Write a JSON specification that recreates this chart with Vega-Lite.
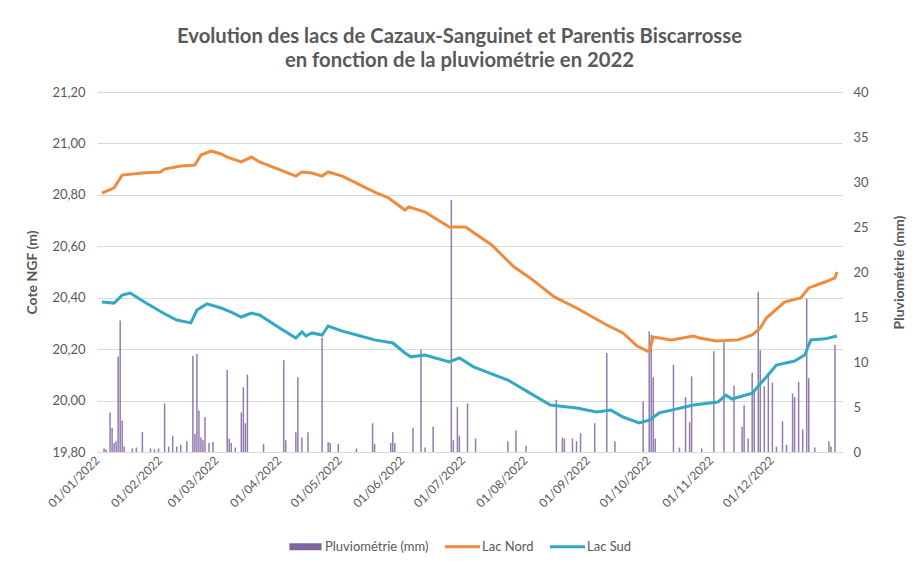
{
  "$schema": "https://vega.github.io/schema/vega-lite/v6.json",
  "width": 745,
  "height": 360,
  "autosize": {"type": "none"},
  "padding": {"left": 97, "top": 92, "right": 71, "bottom": 114},
  "background": "white",
  "config": {
    "font": "Lato",
    "view": {"stroke": null},
    "axis": {"labelFont": "Lato", "labelFontSize": 13, "labelColor": "#595959", "titleFont": "Lato", "titleFontSize": 14, "titleColor": "#595959", "titleFontWeight": "bold"},
    "legend": {
      "labelFont": "Lato",
      "labelFontSize": 13,
      "labelColor": "#595959",
      "labelLimit": 300
    }
  },
  "title": {
    "text": ["Evolution des lacs de Cazaux-Sanguinet et Parentis Biscarrosse", "en fonction de la pluviométrie en 2022"],
    "anchor": "middle",
    "dx": -10,
    "offset": 15,
    "fontSize": 20.3,
    "font": "Lato",
    "fontWeight": "bold",
    "color": "#595959",
    "lineHeight": 24
  },
  "datasets": {
    "pluie": [
      {"date": "2022-01-02", "pluie": 0.4}, {"date": "2022-01-03", "pluie": 0.3}, {"date": "2022-01-05", "pluie": 4.4}, {"date": "2022-01-06", "pluie": 2.7},
      {"date": "2022-01-07", "pluie": 1.0}, {"date": "2022-01-08", "pluie": 1.2}, {"date": "2022-01-09", "pluie": 10.6}, {"date": "2022-01-10", "pluie": 14.6},
      {"date": "2022-01-11", "pluie": 3.5}, {"date": "2022-01-12", "pluie": 0.6}, {"date": "2022-01-16", "pluie": 0.4}, {"date": "2022-01-18", "pluie": 0.5},
      {"date": "2022-01-21", "pluie": 2.2}, {"date": "2022-01-25", "pluie": 0.4}, {"date": "2022-01-27", "pluie": 0.3}, {"date": "2022-01-29", "pluie": 0.4},
      {"date": "2022-02-01", "pluie": 5.4}, {"date": "2022-02-03", "pluie": 0.6}, {"date": "2022-02-05", "pluie": 1.8}, {"date": "2022-02-07", "pluie": 0.6},
      {"date": "2022-02-09", "pluie": 0.8}, {"date": "2022-02-12", "pluie": 1.2}, {"date": "2022-02-15", "pluie": 10.7}, {"date": "2022-02-16", "pluie": 2.0},
      {"date": "2022-02-17", "pluie": 10.9}, {"date": "2022-02-18", "pluie": 4.6}, {"date": "2022-02-19", "pluie": 1.6}, {"date": "2022-02-20", "pluie": 1.3},
      {"date": "2022-02-21", "pluie": 3.9}, {"date": "2022-02-23", "pluie": 1.0}, {"date": "2022-02-25", "pluie": 1.1},
      {"date": "2022-03-04", "pluie": 9.1}, {"date": "2022-03-05", "pluie": 1.5}, {"date": "2022-03-06", "pluie": 1.0}, {"date": "2022-03-08", "pluie": 0.5},
      {"date": "2022-03-11", "pluie": 4.4}, {"date": "2022-03-12", "pluie": 7.2}, {"date": "2022-03-13", "pluie": 3.2}, {"date": "2022-03-14", "pluie": 8.6},
      {"date": "2022-03-22", "pluie": 0.9},
      {"date": "2022-04-01", "pluie": 10.2}, {"date": "2022-04-02", "pluie": 1.3}, {"date": "2022-04-07", "pluie": 2.2}, {"date": "2022-04-08", "pluie": 8.3},
      {"date": "2022-04-10", "pluie": 1.6}, {"date": "2022-04-13", "pluie": 2.2}, {"date": "2022-04-20", "pluie": 12.7}, {"date": "2022-04-23", "pluie": 1.1},
      {"date": "2022-04-24", "pluie": 1.0}, {"date": "2022-04-28", "pluie": 0.9},
      {"date": "2022-05-07", "pluie": 0.4}, {"date": "2022-05-15", "pluie": 3.2}, {"date": "2022-05-16", "pluie": 0.9}, {"date": "2022-05-24", "pluie": 1.0},
      {"date": "2022-05-25", "pluie": 2.2}, {"date": "2022-05-26", "pluie": 1.0},
      {"date": "2022-06-04", "pluie": 2.7}, {"date": "2022-06-08", "pluie": 11.4}, {"date": "2022-06-10", "pluie": 0.5}, {"date": "2022-06-14", "pluie": 2.8},
      {"date": "2022-06-23", "pluie": 28.0}, {"date": "2022-06-24", "pluie": 1.3}, {"date": "2022-06-26", "pluie": 5.0}, {"date": "2022-06-27", "pluie": 1.8},
      {"date": "2022-07-01", "pluie": 5.4}, {"date": "2022-07-05", "pluie": 1.5}, {"date": "2022-07-21", "pluie": 1.2}, {"date": "2022-07-25", "pluie": 2.4},
      {"date": "2022-07-30", "pluie": 0.7},
      {"date": "2022-08-14", "pluie": 5.8}, {"date": "2022-08-17", "pluie": 1.6}, {"date": "2022-08-18", "pluie": 1.5}, {"date": "2022-08-22", "pluie": 1.5},
      {"date": "2022-08-24", "pluie": 1.2}, {"date": "2022-08-26", "pluie": 2.1},
      {"date": "2022-09-02", "pluie": 3.2}, {"date": "2022-09-08", "pluie": 11.0}, {"date": "2022-09-12", "pluie": 1.2}, {"date": "2022-09-26", "pluie": 5.6},
      {"date": "2022-09-29", "pluie": 13.4}, {"date": "2022-09-30", "pluie": 13.0},
      {"date": "2022-10-01", "pluie": 8.3}, {"date": "2022-10-02", "pluie": 1.5}, {"date": "2022-10-11", "pluie": 9.7}, {"date": "2022-10-14", "pluie": 0.5},
      {"date": "2022-10-17", "pluie": 6.1}, {"date": "2022-10-19", "pluie": 3.3}, {"date": "2022-10-20", "pluie": 8.4}, {"date": "2022-10-25", "pluie": 0.4},
      {"date": "2022-10-31", "pluie": 11.2},
      {"date": "2022-11-05", "pluie": 12.2}, {"date": "2022-11-10", "pluie": 7.4}, {"date": "2022-11-14", "pluie": 2.8}, {"date": "2022-11-15", "pluie": 5.2},
      {"date": "2022-11-17", "pluie": 1.5}, {"date": "2022-11-19", "pluie": 8.8}, {"date": "2022-11-20", "pluie": 6.6}, {"date": "2022-11-22", "pluie": 17.8},
      {"date": "2022-11-23", "pluie": 11.3}, {"date": "2022-11-25", "pluie": 7.3}, {"date": "2022-11-27", "pluie": 8.8}, {"date": "2022-11-29", "pluie": 7.7},
      {"date": "2022-12-01", "pluie": 0.6}, {"date": "2022-12-04", "pluie": 3.4}, {"date": "2022-12-06", "pluie": 0.8}, {"date": "2022-12-09", "pluie": 6.5},
      {"date": "2022-12-10", "pluie": 6.1}, {"date": "2022-12-12", "pluie": 7.8}, {"date": "2022-12-14", "pluie": 2.5}, {"date": "2022-12-16", "pluie": 17.0},
      {"date": "2022-12-17", "pluie": 8.2}, {"date": "2022-12-20", "pluie": 0.5}, {"date": "2022-12-27", "pluie": 1.2}, {"date": "2022-12-28", "pluie": 0.6},
      {"date": "2022-12-30", "pluie": 11.9}
    ],
    "lacs": [
      {"date": "2022-01-01", "serie": "Lac Nord", "niveau": 20.807}, {"date": "2022-01-07", "serie": "Lac Nord", "niveau": 20.827},
      {"date": "2022-01-11", "serie": "Lac Nord", "niveau": 20.877}, {"date": "2022-01-21", "serie": "Lac Nord", "niveau": 20.885},
      {"date": "2022-01-30", "serie": "Lac Nord", "niveau": 20.889}, {"date": "2022-02-01", "serie": "Lac Nord", "niveau": 20.900},
      {"date": "2022-02-09", "serie": "Lac Nord", "niveau": 20.912}, {"date": "2022-02-16", "serie": "Lac Nord", "niveau": 20.916},
      {"date": "2022-02-19", "serie": "Lac Nord", "niveau": 20.955}, {"date": "2022-02-24", "serie": "Lac Nord", "niveau": 20.970},
      {"date": "2022-03-01", "serie": "Lac Nord", "niveau": 20.959}, {"date": "2022-03-04", "serie": "Lac Nord", "niveau": 20.947},
      {"date": "2022-03-11", "serie": "Lac Nord", "niveau": 20.928}, {"date": "2022-03-16", "serie": "Lac Nord", "niveau": 20.947},
      {"date": "2022-03-20", "serie": "Lac Nord", "niveau": 20.928}, {"date": "2022-03-28", "serie": "Lac Nord", "niveau": 20.904},
      {"date": "2022-04-07", "serie": "Lac Nord", "niveau": 20.873}, {"date": "2022-04-10", "serie": "Lac Nord", "niveau": 20.889},
      {"date": "2022-04-15", "serie": "Lac Nord", "niveau": 20.885}, {"date": "2022-04-20", "serie": "Lac Nord", "niveau": 20.873},
      {"date": "2022-04-23", "serie": "Lac Nord", "niveau": 20.889}, {"date": "2022-04-30", "serie": "Lac Nord", "niveau": 20.873},
      {"date": "2022-05-07", "serie": "Lac Nord", "niveau": 20.846}, {"date": "2022-05-16", "serie": "Lac Nord", "niveau": 20.811},
      {"date": "2022-05-23", "serie": "Lac Nord", "niveau": 20.788}, {"date": "2022-05-31", "serie": "Lac Nord", "niveau": 20.741},
      {"date": "2022-06-02", "serie": "Lac Nord", "niveau": 20.753}, {"date": "2022-06-10", "serie": "Lac Nord", "niveau": 20.733},
      {"date": "2022-06-22", "serie": "Lac Nord", "niveau": 20.675}, {"date": "2022-06-30", "serie": "Lac Nord", "niveau": 20.675},
      {"date": "2022-07-13", "serie": "Lac Nord", "niveau": 20.605}, {"date": "2022-07-24", "serie": "Lac Nord", "niveau": 20.520},
      {"date": "2022-08-01", "serie": "Lac Nord", "niveau": 20.477}, {"date": "2022-08-13", "serie": "Lac Nord", "niveau": 20.403},
      {"date": "2022-08-24", "serie": "Lac Nord", "niveau": 20.360}, {"date": "2022-09-08", "serie": "Lac Nord", "niveau": 20.294},
      {"date": "2022-09-16", "serie": "Lac Nord", "niveau": 20.263}, {"date": "2022-09-23", "serie": "Lac Nord", "niveau": 20.212},
      {"date": "2022-09-29", "serie": "Lac Nord", "niveau": 20.189}, {"date": "2022-10-01", "serie": "Lac Nord", "niveau": 20.247},
      {"date": "2022-10-10", "serie": "Lac Nord", "niveau": 20.236}, {"date": "2022-10-21", "serie": "Lac Nord", "niveau": 20.251},
      {"date": "2022-10-24", "serie": "Lac Nord", "niveau": 20.243}, {"date": "2022-11-01", "serie": "Lac Nord", "niveau": 20.232},
      {"date": "2022-11-12", "serie": "Lac Nord", "niveau": 20.236}, {"date": "2022-11-19", "serie": "Lac Nord", "niveau": 20.255},
      {"date": "2022-11-23", "serie": "Lac Nord", "niveau": 20.282}, {"date": "2022-11-26", "serie": "Lac Nord", "niveau": 20.321},
      {"date": "2022-12-05", "serie": "Lac Nord", "niveau": 20.383}, {"date": "2022-12-13", "serie": "Lac Nord", "niveau": 20.399},
      {"date": "2022-12-17", "serie": "Lac Nord", "niveau": 20.438}, {"date": "2022-12-25", "serie": "Lac Nord", "niveau": 20.461},
      {"date": "2022-12-30", "serie": "Lac Nord", "niveau": 20.477}, {"date": "2022-12-31", "serie": "Lac Nord", "niveau": 20.500},
      {"date": "2022-01-01", "serie": "Lac Sud", "niveau": 20.383}, {"date": "2022-01-07", "serie": "Lac Sud", "niveau": 20.379},
      {"date": "2022-01-11", "serie": "Lac Sud", "niveau": 20.410}, {"date": "2022-01-15", "serie": "Lac Sud", "niveau": 20.418},
      {"date": "2022-01-22", "serie": "Lac Sud", "niveau": 20.383}, {"date": "2022-02-02", "serie": "Lac Sud", "niveau": 20.333},
      {"date": "2022-02-07", "serie": "Lac Sud", "niveau": 20.313}, {"date": "2022-02-14", "serie": "Lac Sud", "niveau": 20.302},
      {"date": "2022-02-17", "serie": "Lac Sud", "niveau": 20.352}, {"date": "2022-02-22", "serie": "Lac Sud", "niveau": 20.376},
      {"date": "2022-03-01", "serie": "Lac Sud", "niveau": 20.360}, {"date": "2022-03-06", "serie": "Lac Sud", "niveau": 20.344},
      {"date": "2022-03-11", "serie": "Lac Sud", "niveau": 20.325}, {"date": "2022-03-16", "serie": "Lac Sud", "niveau": 20.340},
      {"date": "2022-03-20", "serie": "Lac Sud", "niveau": 20.333}, {"date": "2022-03-30", "serie": "Lac Sud", "niveau": 20.282},
      {"date": "2022-04-07", "serie": "Lac Sud", "niveau": 20.243}, {"date": "2022-04-10", "serie": "Lac Sud", "niveau": 20.267},
      {"date": "2022-04-12", "serie": "Lac Sud", "niveau": 20.251}, {"date": "2022-04-15", "serie": "Lac Sud", "niveau": 20.263},
      {"date": "2022-04-20", "serie": "Lac Sud", "niveau": 20.255}, {"date": "2022-04-23", "serie": "Lac Sud", "niveau": 20.290},
      {"date": "2022-04-30", "serie": "Lac Sud", "niveau": 20.270}, {"date": "2022-05-09", "serie": "Lac Sud", "niveau": 20.251},
      {"date": "2022-05-16", "serie": "Lac Sud", "niveau": 20.236}, {"date": "2022-05-25", "serie": "Lac Sud", "niveau": 20.224},
      {"date": "2022-05-31", "serie": "Lac Sud", "niveau": 20.185}, {"date": "2022-06-03", "serie": "Lac Sud", "niveau": 20.170},
      {"date": "2022-06-10", "serie": "Lac Sud", "niveau": 20.177}, {"date": "2022-06-22", "serie": "Lac Sud", "niveau": 20.150},
      {"date": "2022-06-27", "serie": "Lac Sud", "niveau": 20.166}, {"date": "2022-07-04", "serie": "Lac Sud", "niveau": 20.131},
      {"date": "2022-07-21", "serie": "Lac Sud", "niveau": 20.080}, {"date": "2022-08-01", "serie": "Lac Sud", "niveau": 20.029},
      {"date": "2022-08-11", "serie": "Lac Sud", "niveau": 19.983}, {"date": "2022-08-24", "serie": "Lac Sud", "niveau": 19.971},
      {"date": "2022-09-03", "serie": "Lac Sud", "niveau": 19.956}, {"date": "2022-09-10", "serie": "Lac Sud", "niveau": 19.963},
      {"date": "2022-09-16", "serie": "Lac Sud", "niveau": 19.936}, {"date": "2022-09-24", "serie": "Lac Sud", "niveau": 19.913},
      {"date": "2022-09-29", "serie": "Lac Sud", "niveau": 19.924}, {"date": "2022-10-04", "serie": "Lac Sud", "niveau": 19.952},
      {"date": "2022-10-10", "serie": "Lac Sud", "niveau": 19.963}, {"date": "2022-10-21", "serie": "Lac Sud", "niveau": 19.983},
      {"date": "2022-11-02", "serie": "Lac Sud", "niveau": 19.994}, {"date": "2022-11-06", "serie": "Lac Sud", "niveau": 20.021},
      {"date": "2022-11-09", "serie": "Lac Sud", "niveau": 20.006}, {"date": "2022-11-19", "serie": "Lac Sud", "niveau": 20.029},
      {"date": "2022-11-26", "serie": "Lac Sud", "niveau": 20.092}, {"date": "2022-12-01", "serie": "Lac Sud", "niveau": 20.138},
      {"date": "2022-12-10", "serie": "Lac Sud", "niveau": 20.154}, {"date": "2022-12-15", "serie": "Lac Sud", "niveau": 20.177},
      {"date": "2022-12-18", "serie": "Lac Sud", "niveau": 20.236}, {"date": "2022-12-25", "serie": "Lac Sud", "niveau": 20.240},
      {"date": "2022-12-31", "serie": "Lac Sud", "niveau": 20.251}
    ]
  },
  "layer": [
    {
      "data": {"name": "pluie"},
      "mark": {"type": "bar", "size": 1.5, "opacity": 0.85},
      "encoding": {
        "x": {
          "field": "date", "type": "temporal",
          "scale": {"type": "utc", "domain": [{"year": 2022, "month": 1, "date": 1, "utc": true}, {"year": 2022, "month": 12, "date": 31, "utc": true}]},
          "axis": {
            "title": null,
            "values": [
              {"year": 2022, "month": 1, "date": 1, "utc": true}, {"year": 2022, "month": 2, "date": 1, "utc": true},
              {"year": 2022, "month": 3, "date": 1, "utc": true}, {"year": 2022, "month": 4, "date": 1, "utc": true},
              {"year": 2022, "month": 5, "date": 1, "utc": true}, {"year": 2022, "month": 6, "date": 1, "utc": true},
              {"year": 2022, "month": 7, "date": 1, "utc": true}, {"year": 2022, "month": 8, "date": 1, "utc": true},
              {"year": 2022, "month": 9, "date": 1, "utc": true}, {"year": 2022, "month": 10, "date": 1, "utc": true},
              {"year": 2022, "month": 11, "date": 1, "utc": true}, {"year": 2022, "month": 12, "date": 1, "utc": true}
            ],
            "labelExpr": "utcFormat(datum.value, '%d/%m/%Y')",
            "labelAngle": -45,
            "labelAlign": "right",
            "labelBaseline": "middle",
            "labelPadding": 6,
            "labelOffset": -5,
            "labelFontSize": 12,
            "ticks": false,
            "grid": false,
            "domain": true,
            "domainColor": "#d9d9d9",
            "labelOverlap": false
          }
        },
        "y": {
          "field": "pluie", "type": "quantitative",
          "scale": {"domain": [0, 40], "nice": false},
          "axis": {
            "orient": "right",
            "title": "Pluviométrie (mm)",
            "titleAngle": 270,
            "values": [0, 5, 10, 15, 20, 25, 30, 35, 40],
            "grid": false,
            "domain": false,
            "ticks": false,
            "labelPadding": 11,
            "titlePadding": 38
          }
        },
        "color": {
          "datum": "Pluviométrie (mm)",
          "type": "nominal",
          "scale": {"domain": ["Pluviométrie (mm)", "Lac Nord", "Lac Sud"], "range": ["#8064A2", "#F08A3C", "#31A9C3"]},
          "legend": {
            "title": null,
            "orient": "none",
            "direction": "horizontal",
            "legendX": 202,
            "legendY": 448,
            "labelOffset": 13,
            "columnPadding": 10,
            "encode": {
              "symbols": {
                "update": {
                  "shape": {"signal": "datum.value === 'Pluviométrie (mm)' ? 'M-0.92,-0.2H0.92V0.2H-0.92Z' : 'stroke'"},
                  "size": {"value": 1225},
                  "fill": {"signal": "datum.value === 'Pluviométrie (mm)' ? '#7460AB' : 'transparent'"},
                  "stroke": {"signal": "datum.value === 'Lac Nord' ? '#F08A3C' : '#31A9C3'"},
                  "strokeWidth": {"signal": "datum.value === 'Pluviométrie (mm)' ? 0 : 3"},
                  "opacity": {"value": 1}
                }
              }
            }
          }
        }
      }
    },
    {
      "data": {"name": "lacs"},
      "mark": {"type": "line", "strokeWidth": 3},
      "encoding": {
        "x": {"field": "date", "type": "temporal"},
        "y": {
          "field": "niveau", "type": "quantitative",
          "scale": {"domain": [19.8, 21.2], "nice": false, "zero": false},
          "axis": {
            "orient": "left",
            "title": "Cote NGF (m)",
            "values": [19.8, 20.0, 20.2, 20.4, 20.6, 20.8, 21.0, 21.2],
            "labelExpr": "replace(format(datum.value, '.2f'), '.', ',')",
            "grid": true,
            "gridColor": "#d9d9d9",
            "domain": false,
            "ticks": false,
            "labelPadding": 12,
            "titlePadding": 12
          }
        },
        "color": {
          "field": "serie",
          "type": "nominal",
          "legend": {
            "title": null,
            "orient": "none",
            "direction": "horizontal",
            "legendX": 202,
            "legendY": 448,
            "labelOffset": 13,
            "columnPadding": 10,
            "encode": {
              "symbols": {
                "update": {
                  "shape": {"signal": "datum.value === 'Pluviométrie (mm)' ? 'M-0.92,-0.2H0.92V0.2H-0.92Z' : 'stroke'"},
                  "size": {"value": 1225},
                  "fill": {"signal": "datum.value === 'Pluviométrie (mm)' ? '#7460AB' : 'transparent'"},
                  "stroke": {"signal": "datum.value === 'Lac Nord' ? '#F08A3C' : '#31A9C3'"},
                  "strokeWidth": {"signal": "datum.value === 'Pluviométrie (mm)' ? 0 : 3"},
                  "opacity": {"value": 1}
                }
              }
            }
          }
        }
      }
    }
  ],
  "resolve": {"scale": {"y": "independent"}}
}
